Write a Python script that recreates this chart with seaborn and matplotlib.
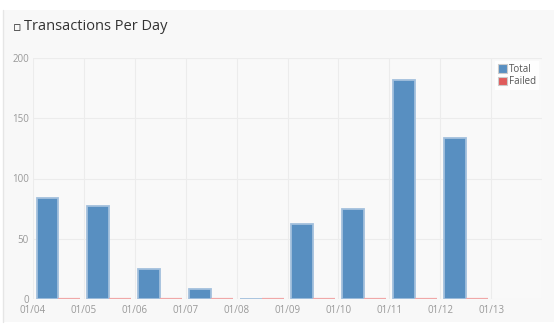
import matplotlib
matplotlib.use("Agg")
import matplotlib.pyplot as plt
from matplotlib.patches import Rectangle
import seaborn as sns
import pandas as pd
import numpy as np

# ---- data ----
dates = ["01/04", "01/05", "01/06", "01/07", "01/08", "01/09", "01/10", "01/11", "01/12", "01/13"]
data_dates = ["01/04", "01/05", "01/06", "01/07", "01/08", "01/09", "01/10", "01/11", "01/12"]
total = [84, 77, 25, 8, 0, 62, 75, 182, 134]
failed = [0, 0, 0, 0, 0, 0, 0, 0, 0]
series = ["Total", "Failed"]
yticks = [0, 50, 100, 150, 200]

df = pd.DataFrame({
    "date": data_dates * 2,
    "value": total + failed,
    "series": ["Total"] * len(total) + ["Failed"] * len(failed),
})

sns.set_theme(style="white")
plt.rcParams["font.family"] = ["Open Sans", "DejaVu Sans"]

W, H = 554, 327
fig = plt.figure(figsize=(W / 100, H / 100), dpi=100, facecolor="white")

# panel background
panel = Rectangle((3 / W, 5 / H), 1 - 3 / W, 312 / H, transform=fig.transFigure,
                  facecolor="#f8f8f8", edgecolor="none", zorder=-10)
fig.patches.append(panel)
fig.add_artist(plt.Line2D([3 / W, 3 / W], [5 / H, 317 / H], transform=fig.transFigure,
                          color="#e6e6e6", lw=1))

ax = fig.add_axes([33 / W, 28 / H, 509 / W, 241 / H])
ax.set_facecolor("#f9f9f9")

fill_colors = {"Total": "#588fc1", "Failed": "#e05c5c"}
edge_colors = {"Total": "#a3c0dd", "Failed": "#f0a8a8"}
edge_widths = {"Total": 1.3, "Failed": 1.6}

sns.barplot(data=df, x="date", y="value", hue="series", order=dates, hue_order=series,
            palette=fill_colors, width=0.86, saturation=1, ax=ax, legend=True, zorder=3)

for cont, s in zip(ax.containers, series):
    for p in cont.patches:
        p.set_edgecolor(edge_colors[s])
        p.set_linewidth(edge_widths[s])

ax.set_ylim(0, 200)
ax.set_xlim(-0.5, len(dates) - 0.5)
ax.set_yticks(yticks)
ax.set_yticklabels([str(v) for v in yticks])
ax.set_xticks(np.arange(len(dates)) - 0.5)
ax.set_xticklabels(dates)
ax.set_xlabel("")
ax.set_ylabel("")
ax.tick_params(axis="both", length=0, labelsize=7, colors="#999999", pad=3)
ax.tick_params(axis="x", pad=4)
for sp in ax.spines.values():
    sp.set_visible(False)
ax.grid(True, color="#ececec", lw=0.8, zorder=0)
ax.set_axisbelow(True)
ax.axvline(len(dates) - 0.5, color="#ececec", lw=0.8)
ax.axhline(200, color="#ececec", lw=0.8)

leg = ax.legend(loc="upper right", fontsize=7, frameon=True, handlelength=0.9, handleheight=0.9,
                handletextpad=0.2, borderpad=0.3, labelspacing=0.15, borderaxespad=0.3,
                fancybox=False)
leg.get_frame().set_facecolor("white")
leg.get_frame().set_edgecolor("none")
leg.get_frame().set_alpha(0.85)
for t in leg.get_texts():
    t.set_color("#555555")
for h, s in zip(leg.legend_handles, series):
    h.set_edgecolor("#cccccc")
    h.set_linewidth(0.8)

fig.text(13 / W, 1 - 28 / H, "▫", fontsize=9, color="#333333", va="center", ha="left",
         family=["DejaVu Sans"])
fig.text(24 / W, 1 - 27 / H, "Transactions Per Day", fontsize=10.5, color="#333333",
         va="center", ha="left")

fig.savefig("out.png", dpi=100, facecolor="white")
